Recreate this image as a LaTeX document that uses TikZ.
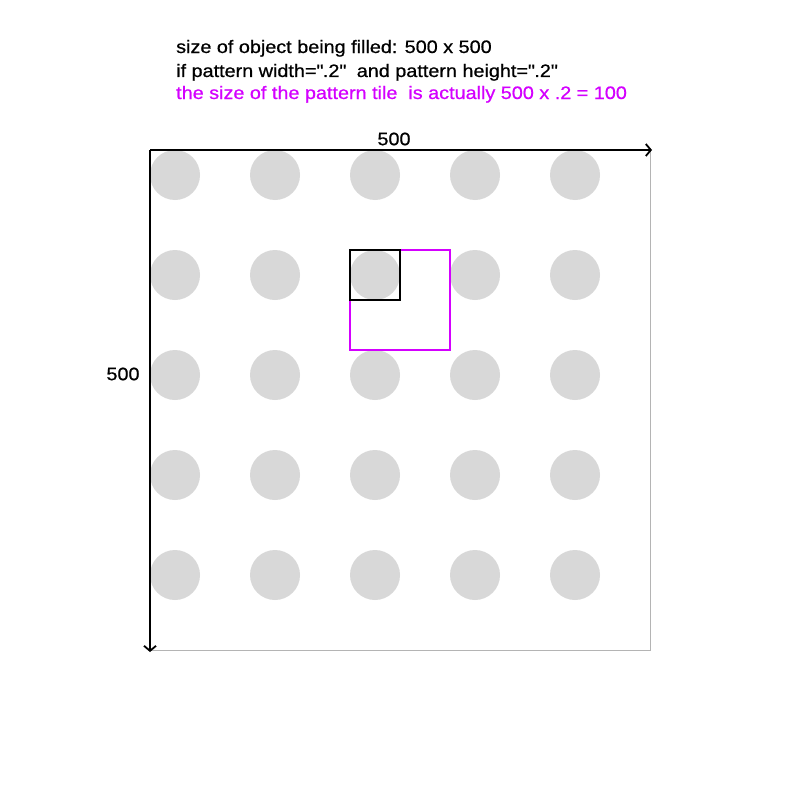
\documentclass[tikz,border=0pt]{standalone}
\usepackage{fontspec}
\setmainfont{Liberation Sans}[FakeStretch=1.1,FakeBold=0.7]
\usetikzlibrary{arrows.meta}
\definecolor{dotgray}{HTML}{D8D8D8}
\definecolor{tilepink}{HTML}{D400FF}
\definecolor{boxgray}{HTML}{B4B4B4}
\tikzset{
  txt/.style={font=\fontsize{18}{20}\selectfont, anchor=base west, inner sep=0pt},
  dim/.style={font=\fontsize{18}{20}\selectfont, inner sep=0pt},
  axis/.style={line width=2pt, -{Straight Barb[length=5pt,width=12pt,line width=1.8pt]}}
}
\begin{document}
\begin{tikzpicture}[x=1pt,y=-1pt]
    \useasboundingbox[fill=white] (0,0) rectangle (800,800);
    % object being filled
    \draw[boxgray, line width=1pt] (150,150) rectangle (650,650);
    \foreach \i in {0,...,4} {
      \foreach \j in {0,...,4} {
        \fill[dotgray] (175+100*\i, 175+100*\j) circle (25);
      }
    }
    % tiles
    \draw[tilepink, line width=2pt] (350,250) rectangle (450,350);
    \draw[black, line width=2pt] (350,250) rectangle (400,300);
    % axes
    \coordinate (org) at (150,150);
    \coordinate (xend) at (652,150);
    \coordinate (yend) at (150,652);
    \draw[axis] (org) -- (xend);
    \draw[axis] (org) -- (yend);
    \node[dim] (wlabel) at (394,139) {500};
    \node[dim] (hlabel) at (123,374) {500};
    % notes
    \node[txt] (line1) at (176,53) {size of object being filled: 500 x 500};
    \node[txt] (line2) at (176,77) {if pattern width=\textquotedbl.2\textquotedbl\ \ and pattern height=\textquotedbl.2\textquotedbl};
    \node[txt, tilepink] (line3) at (176,99) {the size of the pattern tile\ \ is actually 500 x .2 = 100};
  \end{tikzpicture}
\end{document}
